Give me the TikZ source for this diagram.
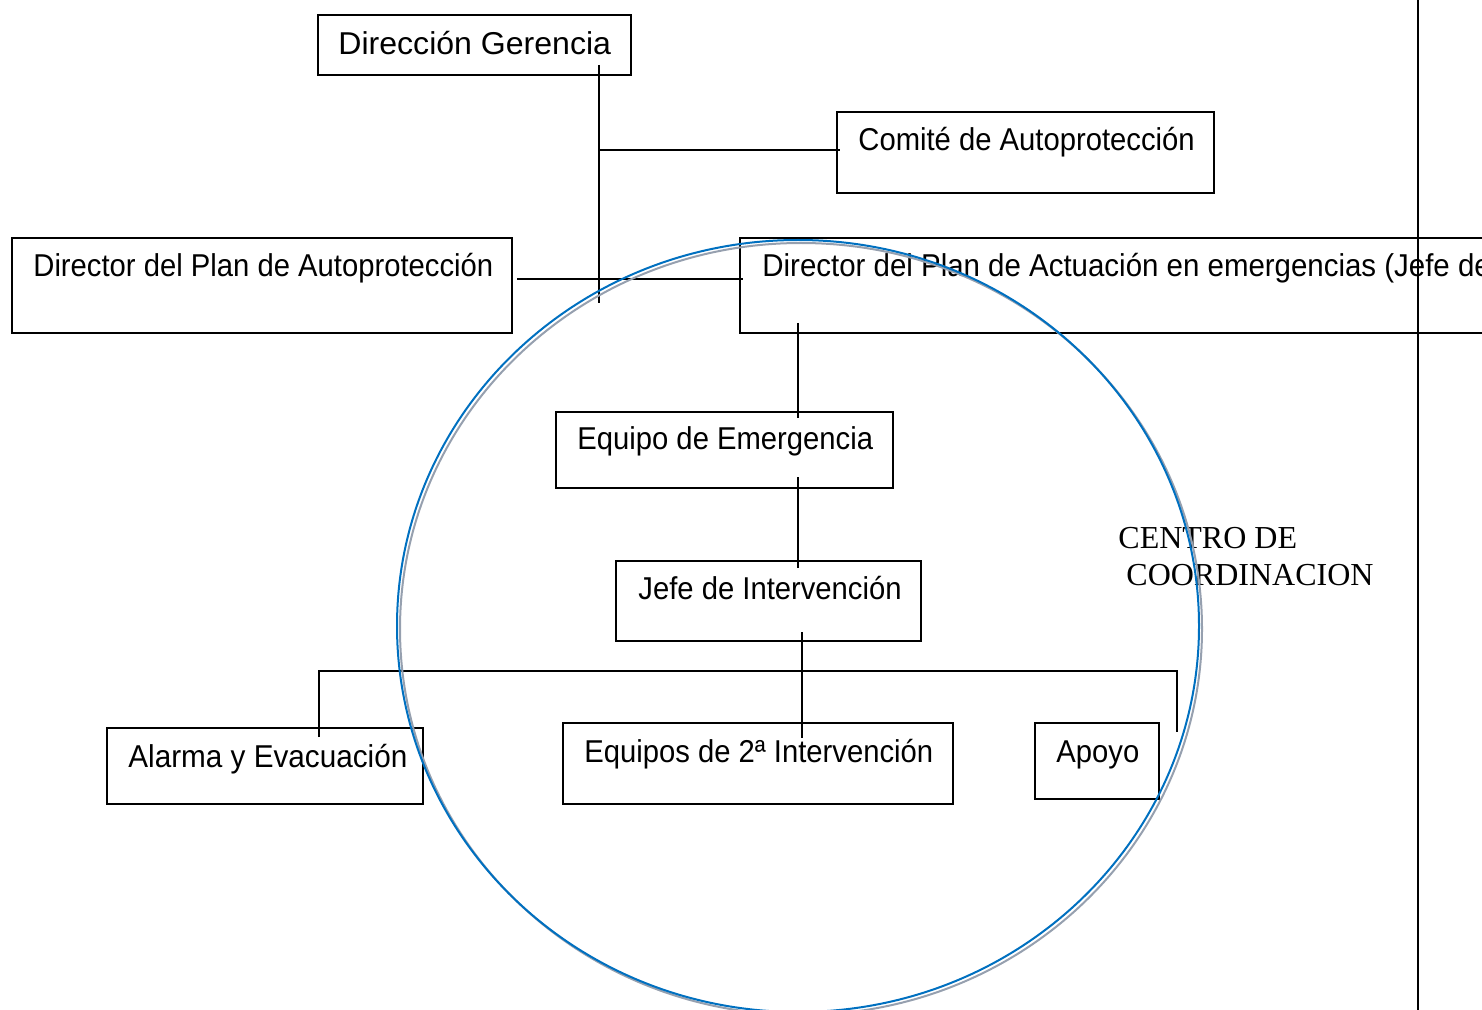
\documentclass[tikz,border=0pt]{standalone}
\usepackage{graphicx}
\usepackage{fontspec}
\setmainfont{Liberation Sans}
\newfontfamily\tnr{Liberation Serif}
\definecolor{cblue}{RGB}{0,112,192}
\definecolor{cshadow}{RGB}{150,160,175}
\newcommand\cnd[1]{\scalebox{0.925}[1]{#1}}
\begin{document}
\begin{tikzpicture}[x=0.5pt,y=-0.5pt,
  box/.style={draw, line width=0.75pt, inner sep=0pt, outer sep=0pt, anchor=north west},
  lbl/.style={anchor=base west, inner sep=0pt, font=\fontsize{15.8}{18}\selectfont},
  conn/.style={line width=0.7pt},
  serif/.style={anchor=base west, inner sep=0pt, font=\tnr\fontsize{16}{18}\selectfont}]
\useasboundingbox (0,0) rectangle (1482,1010);
\clip (0,0) rectangle (1482,1010);
% boxes
\node[box, minimum width=156.5pt, minimum height=30pt] (dg) at (318,15) {};
\node[box, minimum width=188.5pt, minimum height=40.5pt] (ca) at (837,112) {};
\node[box, minimum width=250pt, minimum height=47.5pt] (dpa) at (12,238) {};
\node[box, minimum width=390pt, minimum height=47.5pt] (dpae) at (740,238) {};
\node[box, minimum width=168.5pt, minimum height=38pt] (ee) at (556,412) {};
\node[box, minimum width=152.5pt, minimum height=40pt] (ji) at (616,561) {};
\node[box, minimum width=158pt, minimum height=38pt] (ae) at (107,728) {};
\node[box, minimum width=195pt, minimum height=40.5pt] (e2) at (563,723) {};
\node[box, minimum width=62pt, minimum height=38pt] (ap) at (1035,723) {};
% labels
\node[lbl] (dgt) at (338,55) {\scalebox{1.015}[1]{Dirección Gerencia}};
\node[lbl] (cat) at (858,151) {\cnd{Comité de Autoprotección}};
\node[lbl] (dpat) at (33,277) {\cnd{Director del Plan de Autoprotección}};
\node[lbl] (dpaet) at (762,277) {\scalebox{0.932}[1]{Director del Plan de Actuación en emergencias (Jefe de}};
\node[lbl] (eet) at (577,449) {\cnd{Equipo de Emergencia}};
\node[lbl] (jit) at (638,599) {\cnd{Jefe de Intervención}};
\node[lbl] (aet) at (128,767) {\scalebox{0.94}[1]{Alarma y Evacuación}};
\node[lbl] (e2t) at (584,762) {\cnd{Equipos de 2ª Intervención}};
\node[lbl] (apt) at (1056,762) {\cnd{Apoyo}};
\node[serif] (cc1) at (1118,548) {CENTRO DE};
\node[serif] (cc2) at (1126,585) {COORDINACION};
% connector coordinates
\coordinate (a1) at (599,65);
\coordinate (a2) at (599,303);
\coordinate (a3) at (599,150);
\coordinate (a4) at (840,150);
\coordinate (b1) at (517,279);
\coordinate (b2) at (743,279);
\coordinate (c1) at (798,323);
\coordinate (c2) at (798,418);
\coordinate (d1) at (798,477);
\coordinate (d2) at (798,568);
\coordinate (e1) at (802,632);
\coordinate (e2c) at (802,738);
\coordinate (f1) at (319,737);
\coordinate (f2) at (319,671);
\coordinate (f3) at (1177,671);
\coordinate (f4) at (1177,732);
\coordinate (r1) at (1418,0);
\coordinate (r2) at (1418,1010);
\draw[conn] (a1) -- (a2);
\draw[conn] (a3) -- (a4);
\draw[conn] (b1) -- (b2);
\draw[conn] (c1) -- (c2);
\draw[conn] (d1) -- (d2);
\draw[conn] (e1) -- (e2c);
\draw[conn] (f1) -- (f2) -- (f3) -- (f4);
% circle
\coordinate (cs) at (801,629);
\coordinate (cm) at (798,626);
\draw[cshadow, line width=1pt] (cs) ellipse [x radius=401, y radius=386];
\draw[cblue, line width=1pt] (cm) ellipse [x radius=401, y radius=386];
\draw[line width=1pt] (r1) -- (r2);
\end{tikzpicture}
\end{document}
